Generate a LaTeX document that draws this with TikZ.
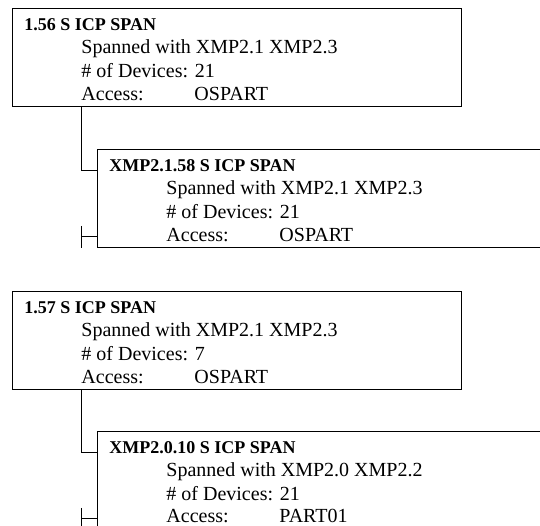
\documentclass[tikz,border=0pt]{standalone}
\usepackage{fontspec}
\setmainfont{Liberation Serif}
\usetikzlibrary{positioning}
\begin{document}
\begin{tikzpicture}[x=1pt,y=-1pt,line width=0.9pt,
		spanbox/.style={draw,rectangle,anchor=north west,inner sep=0pt,minimum height=98pt},
		spantitle/.style={anchor=base west,inner sep=0pt,text depth=0pt,font=\fontsize{18}{22}\selectfont\bfseries},
		spanline/.style={anchor=base west,inner sep=0pt,text depth=0pt,font=\fontsize{20}{24}\selectfont}]
	\useasboundingbox (0,0) rectangle (540,525);
	\clip (0,0) rectangle (540,525);
	% first span
	\node[spanbox,minimum width=449pt] (b1) at (12,8) {};
	\node[spantitle] (t1) at ([xshift=12pt,yshift=-22pt]b1.north west) {1.56 S ICP SPAN};
	\node[spanline] (w1) at ([xshift=69pt,yshift=-45pt]b1.north west) {Spanned with XMP2.1 XMP2.3};
	\node[spanline] (d1) at ([xshift=69pt,yshift=-69pt]b1.north west) {\# of Devices: 21};
	\node[spanline] (a1) at ([xshift=69pt,yshift=-92pt]b1.north west) {Access:};
	\node[spanline] (v1) at ([xshift=182pt,yshift=-92pt]b1.north west) {OSPART};
	\node[spanbox,minimum width=470pt] (b2) at (97,149) {};
	\node[spantitle] (t2) at ([xshift=12pt,yshift=-22pt]b2.north west) {XMP2.1.58 S ICP SPAN};
	\node[spanline] (w2) at ([xshift=69pt,yshift=-45pt]b2.north west) {Spanned with XMP2.1 XMP2.3};
	\node[spanline] (d2) at ([xshift=69pt,yshift=-69pt]b2.north west) {\# of Devices: 21};
	\node[spanline] (a2) at ([xshift=69pt,yshift=-92pt]b2.north west) {Access:};
	\node[spanline] (v2) at ([xshift=182pt,yshift=-92pt]b2.north west) {OSPART};
	\draw ([xshift=69pt]b1.south west) |- ([yshift=-21pt]b2.north west);
	\draw ([xshift=-16pt,yshift=22pt]b2.south west) -- ([xshift=-16pt]b2.south west);
	\draw ([xshift=-16pt,yshift=11pt]b2.south west) -- ([yshift=11pt]b2.south west);
	% second span
	\node[spanbox,minimum width=449pt] (b3) at (12,291) {};
	\node[spantitle] (t3) at ([xshift=12pt,yshift=-22pt]b3.north west) {1.57 S ICP SPAN};
	\node[spanline] (w3) at ([xshift=69pt,yshift=-45pt]b3.north west) {Spanned with XMP2.1 XMP2.3};
	\node[spanline] (d3) at ([xshift=69pt,yshift=-69pt]b3.north west) {\# of Devices: 7};
	\node[spanline] (a3) at ([xshift=69pt,yshift=-92pt]b3.north west) {Access:};
	\node[spanline] (v3) at ([xshift=182pt,yshift=-92pt]b3.north west) {OSPART};
	\node[spanbox,minimum width=470pt] (b4) at (97,431) {};
	\node[spantitle] (t4) at ([xshift=12pt,yshift=-22pt]b4.north west) {XMP2.0.10 S ICP SPAN};
	\node[spanline] (w4) at ([xshift=69pt,yshift=-45pt]b4.north west) {Spanned with XMP2.0 XMP2.2};
	\node[spanline] (d4) at ([xshift=69pt,yshift=-69pt]b4.north west) {\# of Devices: 21};
	\node[spanline] (a4) at ([xshift=69pt,yshift=-91pt]b4.north west) {Access:};
	\node[spanline] (v4) at ([xshift=182pt,yshift=-91pt]b4.north west) {PART01};
	\draw ([xshift=69pt]b3.south west) |- ([yshift=-21pt]b4.north west);
	\draw ([xshift=-16pt,yshift=22pt]b4.south west) -- ([xshift=-16pt]b4.south west);
	\draw ([xshift=-16pt,yshift=11pt]b4.south west) -- ([yshift=11pt]b4.south west);
\end{tikzpicture}
\end{document}
